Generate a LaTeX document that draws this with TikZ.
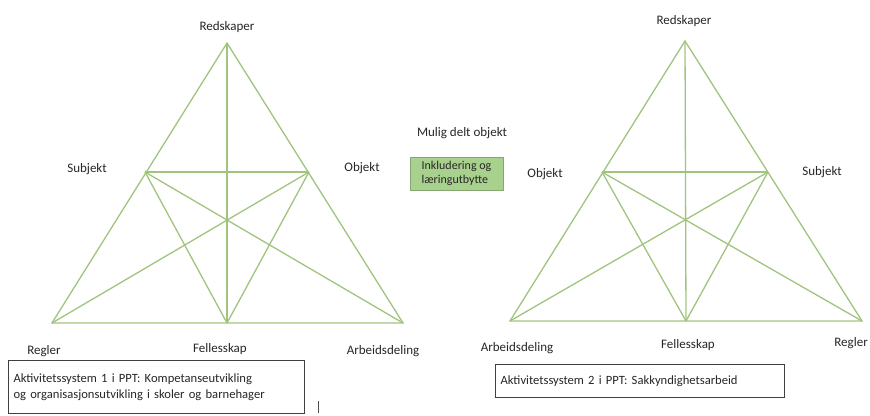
\documentclass[tikz,border=0pt]{standalone}
\usepackage{fontspec}
\setmainfont{Carlito}
\definecolor{tri}{HTML}{A0C47E}
\definecolor{gfill}{HTML}{A9D18E}
\definecolor{txt}{HTML}{262626}
\begin{document}
\begin{tikzpicture}[x=1pt,y=-1pt,
  edge/.style={draw=tri,line width=1.3pt},
  lbl/.style={font=\fontsize{13}{15}\selectfont,text=txt,inner sep=1pt},
  frame/.style={draw=black!75,line width=1pt,font=\fontsize{12.6}{15.5}\selectfont,text=txt,align=left,inner sep=4pt}]
\useasboundingbox (0,0) rectangle (870,415);
% left triangle
\coordinate (A1) at (227,43);
\coordinate (L1) at (52,323);
\coordinate (R1) at (403,323);
\coordinate (M1) at (227,323);
\coordinate (S1) at (145,172);
\coordinate (O1) at (309,172);
\draw[edge] (A1) -- (L1) -- (R1) -- cycle;
\draw[edge] (A1) -- (M1);
\draw[edge] (S1) -- (O1);
\draw[edge] (S1) -- (R1);
\draw[edge] (O1) -- (L1);
\draw[edge] (S1) -- (M1);
\draw[edge] (O1) -- (M1);
% right triangle
\coordinate (A2) at (685,41);
\coordinate (L2) at (510,321);
\coordinate (R2) at (862,321);
\coordinate (M2) at (686,321);
\coordinate (S2) at (602,172);
\coordinate (O2) at (768,172);
\draw[edge] (A2) -- (L2) -- (R2) -- cycle;
\draw[edge] (A2) -- (M2);
\draw[edge] (S2) -- (O2);
\draw[edge] (S2) -- (R2);
\draw[edge] (O2) -- (L2);
\draw[edge] (S2) -- (M2);
\draw[edge] (O2) -- (M2);
% left labels
\node[lbl] (red1) at (227,27) {Redskaper};
\node[lbl] (sub1) at (87,169) {Subjekt};
\node[lbl] (obj1) at (362,168) {Objekt};
\node[lbl] (reg1) at (44,351) {Regler};
\node[lbl] (fel1) at (220,349) {Fellesskap};
\node[lbl] (arb1) at (383,351) {Arbeidsdeling};
% right labels
\node[lbl] (red2) at (684,21) {Redskaper};
\node[lbl] (obj2) at (545,174) {Objekt};
\node[lbl] (sub2) at (822,172) {Subjekt};
\node[lbl,anchor=east] (reg2) at (869,343) {Regler};
\node[lbl] (fel2) at (688,345) {Fellesskap};
\node[lbl] (arb2) at (517,348) {Arbeidsdeling};
% shared object
\node[lbl] (mulig) at (462,133) {Mulig delt objekt};
\node[fill=gfill,draw=gfill!80!black,line width=0.6pt,minimum width=93pt,minimum height=33pt,align=left,
  font=\fontsize{12}{14}\selectfont,text=txt,inner sep=2pt] (delt) at (456.5,173.5) {Inkludering og\\læringutbytte};
% boxes
\node[frame,minimum width=296pt,minimum height=53pt,anchor=north west,text width=286pt] (box1) at (8,360)
  {Aktivitetssystem 1 i PPT: Kompetanseutvikling\\og organisasjonsutvikling i skoler og barnehager};
\node[frame,minimum width=289pt,minimum height=33pt,anchor=north west,text width=279pt] (box2) at (495,364)
  {Aktivitetssystem 2 i PPT: Sakkyndighetsarbeid};
% stray tick
\coordinate (t1) at (318,401);
\coordinate (t2) at (318,413);
\draw[black!70,line width=0.8pt] (t1) -- (t2);
\end{tikzpicture}
\end{document}
